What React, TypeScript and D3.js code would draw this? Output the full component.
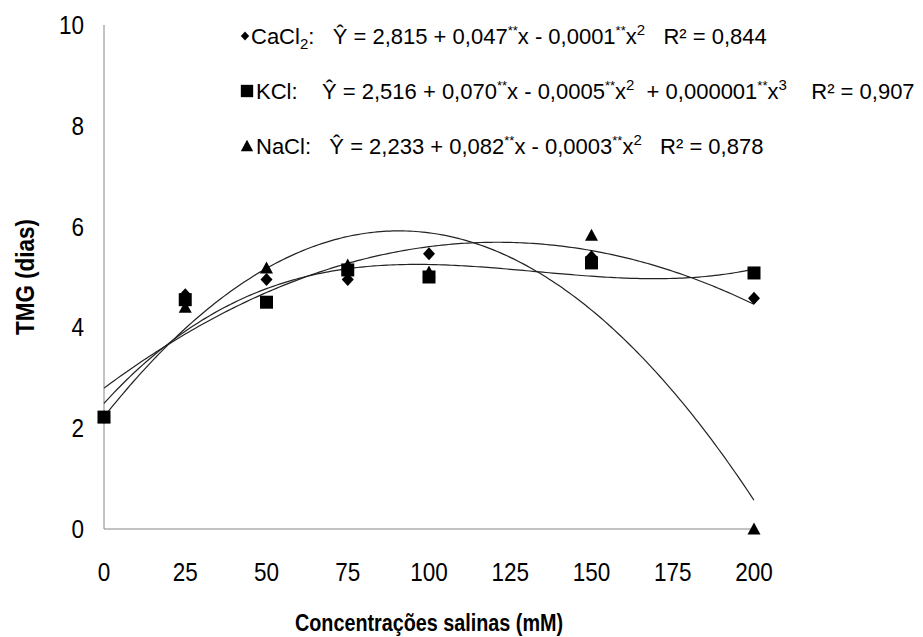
import React from 'react';
import * as d3 from 'd3';

// concentrations (mM) and mean germination time (days) per salt
const concentrations = [0, 25, 50, 75, 100, 150, 200];
const cacl2 = [2.22, 4.65, 4.95, 4.95, 5.46, 5.4, 4.58];
const kcl = [2.22, 4.55, 4.5, 5.14, 5.0, 5.28, 5.08];
const nacl = [2.22, 4.4, 5.18, 5.24, 5.1, 5.83, 0];

const xTicks = [0, 25, 50, 75, 100, 125, 150, 175, 200];
const yTicks = [0, 2, 4, 6, 8, 10];

// equation labels as printed in the legend
const saltNames = ['CaCl', 'KCl', 'NaCl'];
const eqCoefs = [
  ['2,815', '0,047', '0,0001'],
  ['2,516', '0,070', '0,0005', '0,000001'],
  ['2,233', '0,082', '0,0003'],
];
const eqSigns = [
  ['+', '-'],
  ['+', '-', '+'],
  ['+', '-'],
];
const r2Values = ['0,844', '0,907', '0,878'];
const fitDegrees = [2, 3, 2];

const W = 923;
const H = 637;
const FONT = '"Liberation Sans", Arial, sans-serif';

// least squares polynomial fit (normal equations)
function polyfit(xs: number[], ys: number[], deg: number) {
  const n = deg + 1;
  const A = Array.from({ length: n }, () => new Array(n + 1).fill(0));
  xs.forEach((xv, k) => {
    for (let i = 0; i < n; i++) {
      for (let j = 0; j < n; j++) A[i][j] += Math.pow(xv, i + j);
      A[i][n] += Math.pow(xv, i) * ys[k];
    }
  });
  for (let c = 0; c < n; c++) {
    let p = c;
    for (let r = c + 1; r < n; r++) if (Math.abs(A[r][c]) > Math.abs(A[p][c])) p = r;
    [A[c], A[p]] = [A[p], A[c]];
    for (let r = 0; r < n; r++) {
      if (r === c) continue;
      const f = A[r][c] / A[c][c];
      for (let k = c; k <= n; k++) A[r][k] -= f * A[c][k];
    }
  }
  return A.map((row, i) => row[n] / row[i]);
}

function markerPath(kind: string) {
  if (kind === 'diamond') return 'M0,-6.5L6,0L0,6.5L-6,0Z';
  if (kind === 'square') return 'M-6.5,-6.5H6.5V6.5H-6.5Z';
  return 'M0,-6.5L6.5,5.5H-6.5Z';
}

const series = [
  { name: 'CaCl2', values: cacl2, marker: 'diamond' },
  { name: 'KCl', values: kcl, marker: 'square' },
  { name: 'NaCl', values: nacl, marker: 'triangle' },
];

type Seg = { t: string; level: number; size?: number };

// build one legend line as segments with baseline level: 0 normal, 1 superscript, -1 subscript
function equationSegments(i: number): Seg[] {
  const c = eqCoefs[i];
  const s = eqSigns[i];
  const segs: Seg[] = [{ t: saltNames[i], level: 0 }];
  if (i === 0) segs.push({ t: '2', level: -1, size: 15 });
  segs.push({ t: i === 1 ? ':    ' : ':   ', level: 0 });
  segs.push({ t: `Ŷ = ${c[0]} ${s[0]} ${c[1]}`, level: 0 });
  segs.push({ t: '**', level: 1, size: 13 });
  segs.push({ t: `x ${s[1]} ${c[2]}`, level: 0 });
  segs.push({ t: '**', level: 1, size: 13 });
  segs.push({ t: 'x', level: 0 });
  segs.push({ t: '2', level: 1, size: 15 });
  if (c.length > 3) {
    segs.push({ t: `  ${s[2]} ${c[3]}`, level: 0 });
    segs.push({ t: '**', level: 1, size: 13 });
    segs.push({ t: 'x', level: 0 });
    segs.push({ t: '3', level: 1, size: 15 });
  }
  segs.push({ t: `${c.length > 3 ? '    ' : '   '}R² = ${r2Values[i]}`, level: 0 });
  return segs;
}

export default function App() {
  const x = d3.scaleLinear().domain([0, 200]).range([104, 754]);
  const y = d3.scaleLinear().domain([0, 10]).range([529, 25]);

  const samples = d3.range(0, 200.5, 1);
  const line = d3.line<[number, number]>().x(d => x(d[0])).y(d => y(d[1]));

  const curves = series.map((s, i) => {
    const coef = polyfit(concentrations, s.values, fitDegrees[i]);
    const pts: [number, number][] = samples.map(t => [t, coef.reduce((acc, c, k) => acc + c * Math.pow(t, k), 0)]);
    return line(pts) || '';
  });

  const legendY = [44, 99, 154];
  const shift = (lvl: number) => (lvl === 1 ? -9 : lvl === -1 ? 5 : 0);

  return (
    <svg width={W} height={H} style={{ position: 'absolute', left: 0, top: 0, background: '#fff' }}>
      {/* axes */}
      <line x1={x(0)} x2={x(0)} y1={y(0)} y2={y(10)} stroke="#868686" strokeWidth={1} />
      <line x1={x(0)} x2={x(200)} y1={y(0)} y2={y(0)} stroke="#868686" strokeWidth={1} />

      {yTicks.map(t => (
        <text key={'y' + t} transform={`translate(84,${y(t)}) scale(0.9,1)`} dy="0.36em" textAnchor="end" fontFamily={FONT} fontSize={25}>{t}</text>
      ))}
      {xTicks.map(t => (
        <text key={'x' + t} transform={`translate(${x(t)},581) scale(0.9,1)`} textAnchor="middle" fontFamily={FONT} fontSize={25}>{t}</text>
      ))}

      <text transform={`translate(${x(100)},631) scale(0.86,1)`} textAnchor="middle" fontFamily={FONT} fontSize={23} fontWeight="bold">Concentrações salinas (mM)</text>
      <text transform={`translate(34,${y(5)}) rotate(-90) scale(0.9,1)`} textAnchor="middle" fontFamily={FONT} fontSize={25} fontWeight="bold">TMG (dias)</text>

      {/* fitted curves */}
      {curves.map((d, i) => (
        <path key={'c' + i} d={d} fill="none" stroke="#222" strokeWidth={1.2} />
      ))}

      {/* observed means */}
      {series.map(s => (
        <g key={s.name}>
          {s.values.map((v, j) => (
            <path key={j} d={markerPath(s.marker)} transform={`translate(${x(concentrations[j])},${y(v)})`} fill="#000" />
          ))}
        </g>
      ))}

      {/* legend with equations */}
      {series.map((s, i) => {
        const cy = legendY[i];
        const segs = equationSegments(i);
        let level = 0;
        const small = s.marker === 'diamond' ? 0.7 : 0.95;
        return (
          <g key={'l' + i}>
            <path d={markerPath(s.marker)} transform={`translate(${s.marker === 'diamond' ? 245 : 247},${cy - 8}) scale(${small})`} fill="#000" />
            <text x={s.marker === 'diamond' ? 251 : 256} y={cy} fontFamily={FONT} fontSize={22} style={{ whiteSpace: 'pre' }}>
              {segs.map((g, k) => {
                const dy = shift(g.level) - shift(level);
                level = g.level;
                return (
                  <tspan key={k} dy={dy} fontSize={g.size}>{g.t}</tspan>
                );
              })}
            </text>
          </g>
        );
      })}
    </svg>
  );
}
